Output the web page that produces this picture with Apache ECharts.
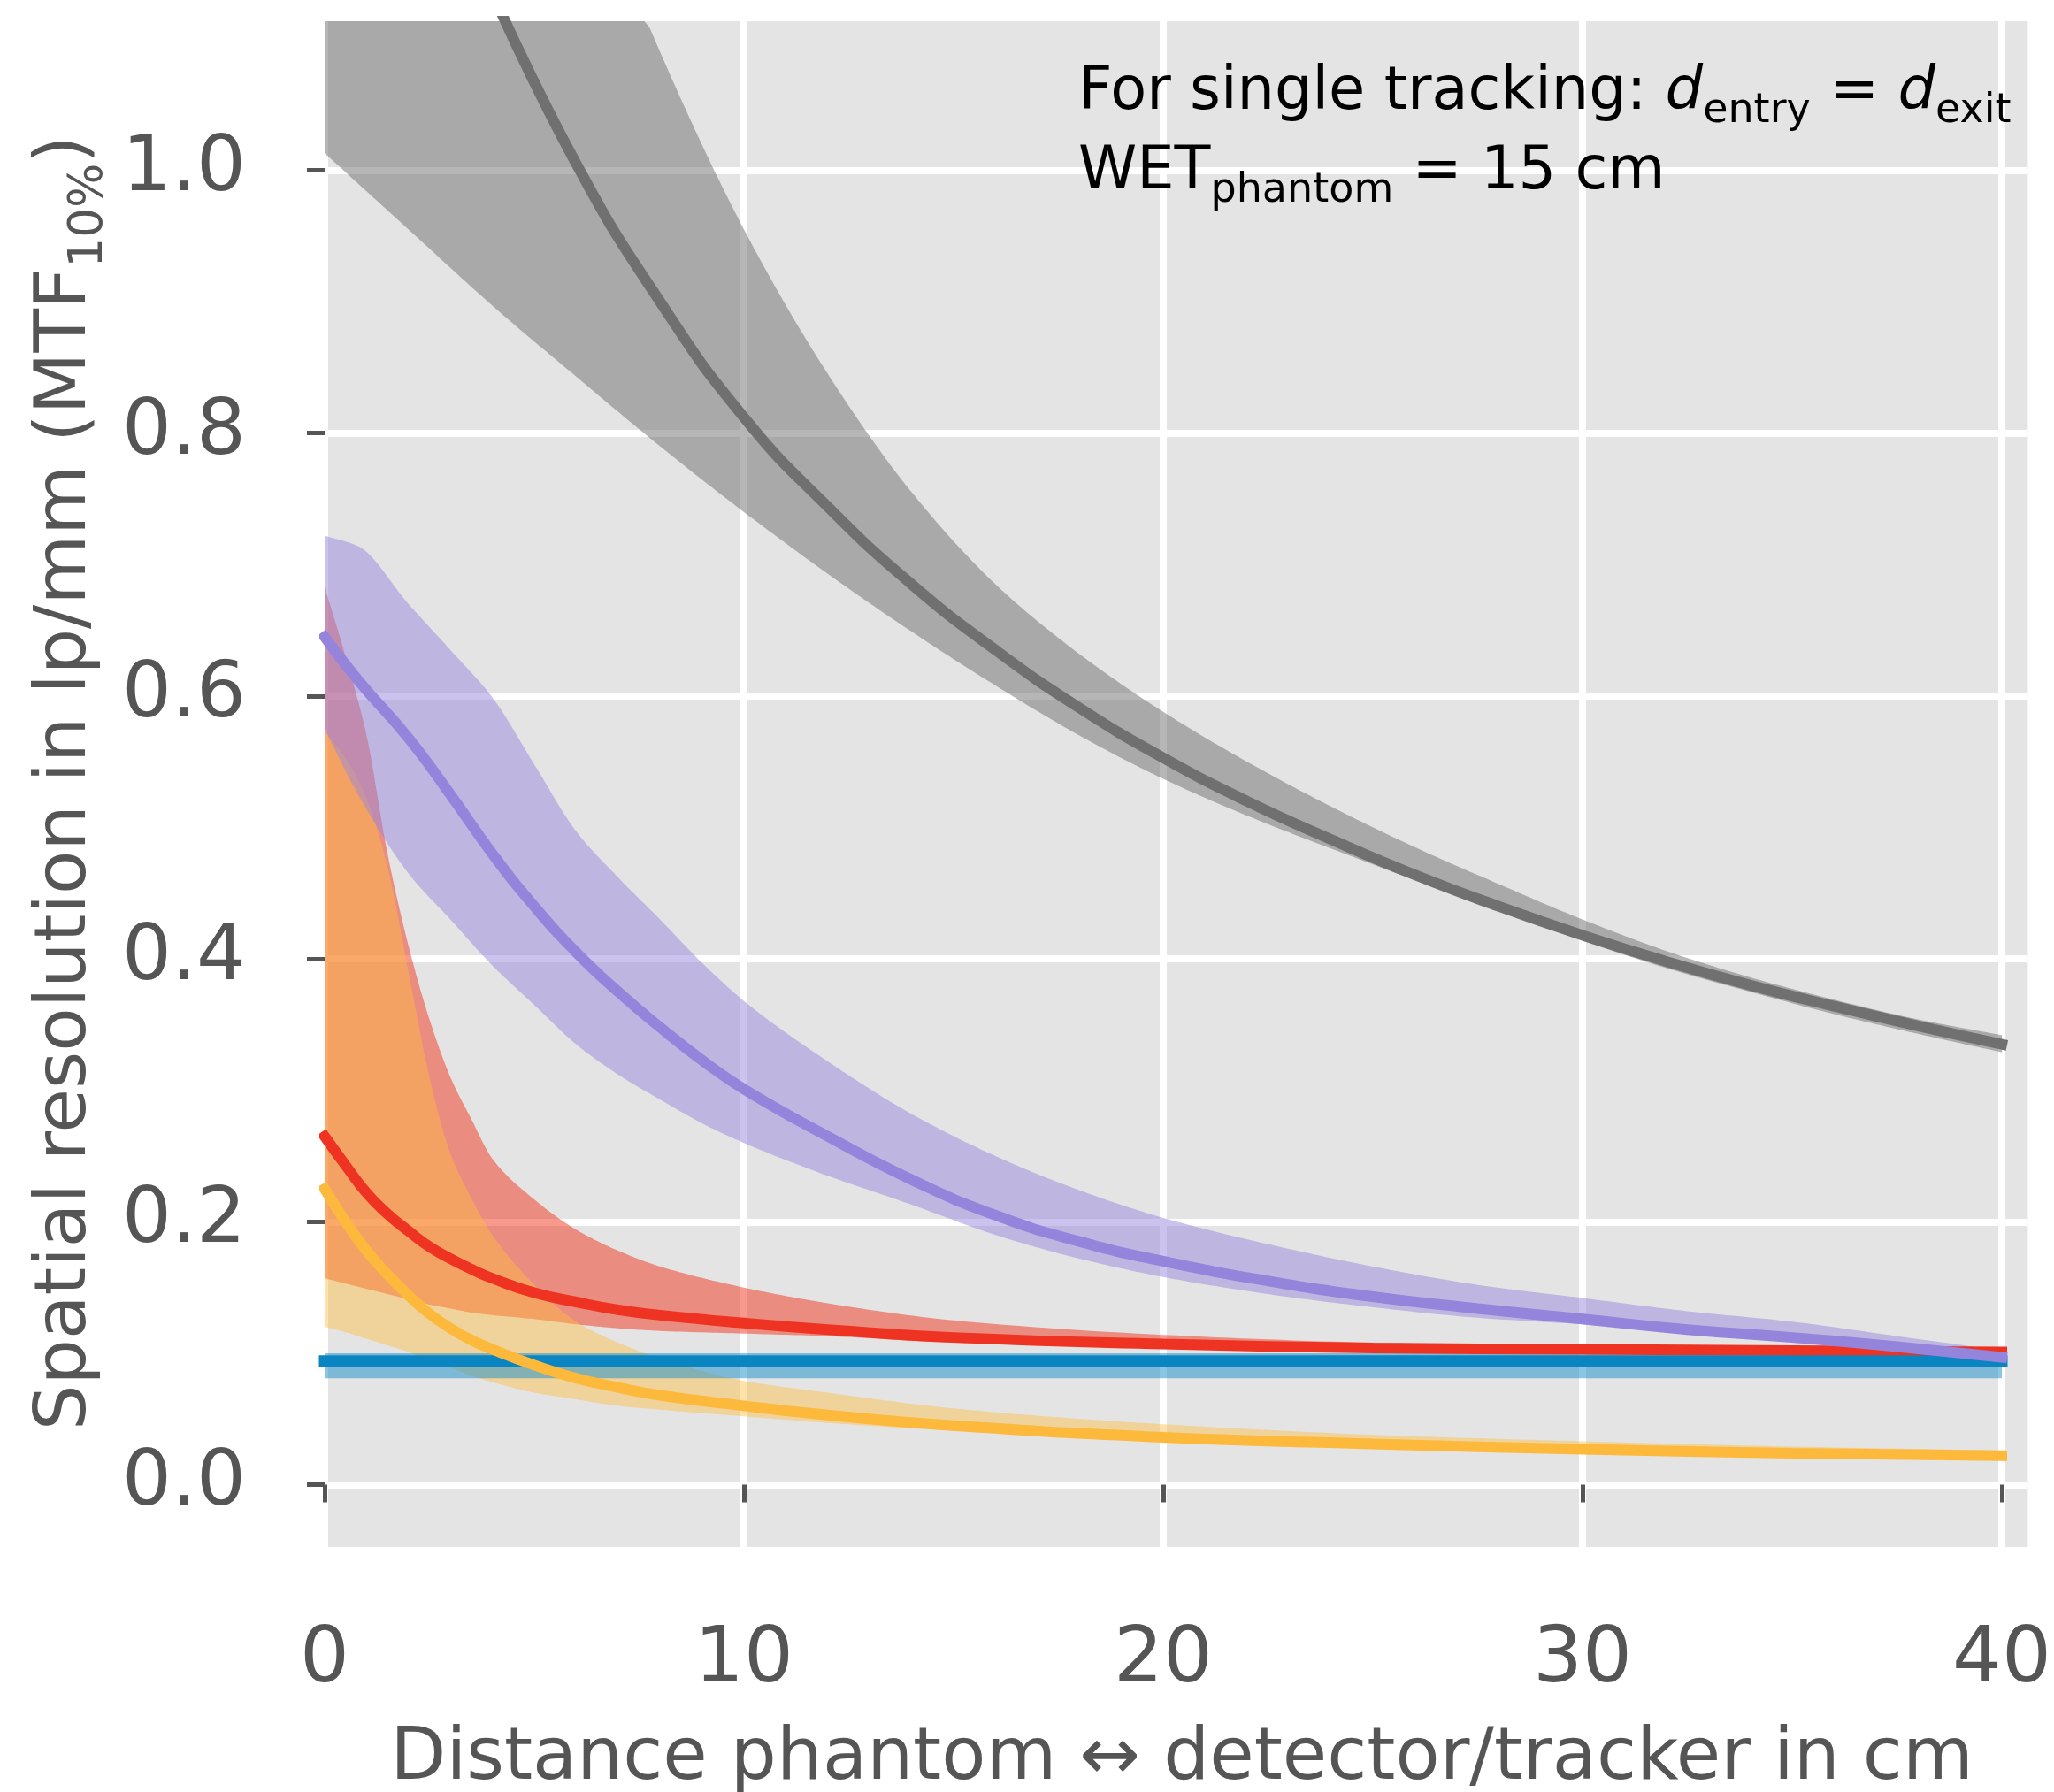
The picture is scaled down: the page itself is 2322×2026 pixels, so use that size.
<!DOCTYPE html>
<html><head><meta charset="utf-8">
<script src="https://cdn.jsdelivr.net/npm/echarts@6/dist/echarts.min.js"></script>
<style>html,body{margin:0;padding:0;background:#fff}#c{width:2322px;height:2026px}</style>
</head><body><div id="c"></div>
<script>
// ---------- data ----------
const xTicks = [0, 10, 20, 30, 40];
const yTicks = [0, 0.2, 0.4, 0.6, 0.8, 1.0];

const grayBandX     = [0, 2, 4, 6, 8, 10, 12, 14, 16, 18, 20, 22, 24, 26, 28, 30, 32, 34, 36, 38, 40];
const grayBandUpper = [1.95, 1.68, 1.44, 1.25, 1.09, 0.955, 0.845, 0.755, 0.685, 0.632, 0.588, 0.55, 0.516, 0.485, 0.457, 0.43, 0.406, 0.386, 0.369, 0.354, 0.342];
const grayBandLower = [1.013, 0.955, 0.897, 0.843, 0.79, 0.74, 0.693, 0.649, 0.608, 0.57, 0.537, 0.509, 0.484, 0.46, 0.437, 0.414, 0.393, 0.375, 0.358, 0.343, 0.329];
const grayLineX     = [4, 6, 8, 10, 12, 14, 16, 18, 20, 22, 24, 26, 28, 30, 32, 34, 36, 38, 40];
const grayLineY     = [1.135, 1.005, 0.9, 0.812, 0.744, 0.685, 0.635, 0.591, 0.553, 0.52, 0.491, 0.464, 0.44, 0.418, 0.398, 0.38, 0.364, 0.349, 0.335];

const purpleX     = [0, 0.8, 2, 3, 4, 5, 6, 7, 8, 9, 10, 12, 14, 16, 18, 20, 22.5, 25, 27.5, 30, 32.5, 35, 37.5, 40];
const purpleUpper = [0.722, 0.714, 0.67, 0.635, 0.599, 0.548, 0.497, 0.462, 0.43, 0.397, 0.368, 0.322, 0.282, 0.25, 0.224, 0.203, 0.183, 0.166, 0.152, 0.142, 0.132, 0.124, 0.113, 0.102];
const purpleLine  = [0.645, 0.612, 0.568, 0.525, 0.48, 0.44, 0.405, 0.375, 0.348, 0.323, 0.301, 0.265, 0.232, 0.205, 0.185, 0.17, 0.155, 0.143, 0.134, 0.126, 0.118, 0.112, 0.105, 0.097];
const purpleLower = [0.575, 0.525, 0.465, 0.43, 0.395, 0.365, 0.335, 0.312, 0.293, 0.275, 0.26, 0.235, 0.213, 0.19, 0.172, 0.158, 0.145, 0.135, 0.127, 0.122, 0.116, 0.111, 0.103, 0.095];

const redX     = [0, 0.5, 1, 1.5, 2, 2.5, 3, 3.5, 4, 5, 6, 7, 8, 10, 12, 15, 20, 25, 30, 35, 40];
const redUpper = [0.683, 0.63, 0.57, 0.48, 0.41, 0.354, 0.31, 0.278, 0.248, 0.217, 0.194, 0.178, 0.166, 0.15, 0.138, 0.125, 0.114, 0.108, 0.105, 0.103, 0.102];
const redLine  = [0.265, 0.243, 0.222, 0.206, 0.193, 0.181, 0.172, 0.164, 0.157, 0.146, 0.139, 0.133, 0.129, 0.123, 0.118, 0.112, 0.107, 0.104, 0.103, 0.102, 0.101];
const redLower = [0.157, 0.153, 0.149, 0.145, 0.141, 0.137, 0.134, 0.131, 0.129, 0.126, 0.122, 0.119, 0.117, 0.115, 0.113, 0.108, 0.104, 0.101, 0.1, 0.099, 0.099];

const yellowX     = [0, 0.5, 1, 1.5, 2, 2.5, 3, 3.5, 4, 5, 6, 7, 8, 10, 12, 15, 20, 25, 30, 35, 40];
const yellowUpper = [0.573, 0.553, 0.522, 0.47, 0.39, 0.31, 0.252, 0.218, 0.19, 0.152, 0.124, 0.108, 0.096, 0.079, 0.07, 0.058, 0.046, 0.038, 0.033, 0.029, 0.026];
const yellowLine  = [0.225, 0.2, 0.178, 0.16, 0.144, 0.13, 0.119, 0.11, 0.103, 0.091, 0.081, 0.074, 0.068, 0.06, 0.053, 0.045, 0.036, 0.031, 0.027, 0.024, 0.022];
const yellowLower = [0.12, 0.116, 0.111, 0.106, 0.101, 0.095, 0.089, 0.083, 0.078, 0.07, 0.065, 0.06, 0.057, 0.052, 0.047, 0.041, 0.033, 0.028, 0.024, 0.021, 0.019];

const blueX     = [0, 10, 20, 30, 40];
const blueLine  = [0.094, 0.094, 0.094, 0.094, 0.094];
const blueUpper = [0.1, 0.1, 0.1, 0.1, 0.1];
const blueLower = [0.081, 0.081, 0.081, 0.081, 0.081];

// ---------- helpers ----------
const FONT = 'DejaVu Sans';
const Y_MIN = -0.0474, Y_MAX = 1.1134, X_MIN = 0, X_MAX = 40.62;
const zip = (xs, ys) => xs.map((x, i) => [x, ys[i]]);

// monotone cubic sampling (rendering only: smooth drawing of the band edges)
function monotoneSample(xs, ys, n) {
  const m = xs.length, h = [], d = [], s = [];
  for (let i = 0; i < m - 1; i++) { h[i] = xs[i + 1] - xs[i]; d[i] = (ys[i + 1] - ys[i]) / h[i]; }
  s[0] = d[0]; s[m - 1] = d[m - 2];
  for (let i = 1; i < m - 1; i++) {
    if (d[i - 1] * d[i] <= 0) s[i] = 0;
    else { const w1 = 2 * h[i] + h[i - 1], w2 = h[i] + 2 * h[i - 1]; s[i] = (w1 + w2) / (w1 / d[i - 1] + w2 / d[i]); }
  }
  const out = [];
  for (let i = 0; i < m - 1; i++) {
    for (let k = 0; k < n; k++) {
      const t = k / n, t2 = t * t, t3 = t2 * t;
      const y = (2 * t3 - 3 * t2 + 1) * ys[i] + (t3 - 2 * t2 + t) * h[i] * s[i] + (-2 * t3 + 3 * t2) * ys[i + 1] + (t3 - t2) * h[i] * s[i + 1];
      out.push([xs[i] + t * h[i], y]);
    }
  }
  out.push([xs[m - 1], ys[m - 1]]);
  return out;
}

function band(name, xs, lo, hi, color, z) {
  return {
    type: 'custom', name, coordinateSystem: 'cartesian2d', clip: true, z, silent: true,
    data: xs.map((x, i) => [x, lo[i], hi[i]]),
    encode: { x: 0, y: [1, 2] },
    renderItem: (params, api) => {
      if (params.dataIndex !== 0) return null;
      const top = api.coord([X_MIN, Y_MAX])[1], bot = api.coord([X_MIN, Y_MIN])[1];
      const clampY = p => [p[0], Math.max(top, Math.min(bot, p[1]))];
      const up = monotoneSample(xs, hi, 16).map(p => clampY(api.coord(p)));
      const dn = monotoneSample(xs, lo, 16).map(p => clampY(api.coord(p))).reverse();
      return { type: 'polygon', shape: { points: up.concat(dn) }, style: { fill: color } };
    }
  };
}
function line(name, xs, ys, color, width, z) {
  return { type: 'line', name, data: zip(xs, ys), symbol: 'none', smooth: 0.5,
    lineStyle: { color, width, cap: 'square' }, z, silent: true, emphasis: { disabled: true } };
}

const series = [
  band('red band', redX, redLower, redUpper, 'rgba(242,52,28,0.5)', 1),
  band('yellow band', yellowX, yellowLower, yellowUpper, 'rgba(255,188,66,0.45)', 2),
  band('blue band', blueX, blueLower, blueUpper, 'rgba(22,142,202,0.5)', 3),
  band('purple band', purpleX, purpleLower, purpleUpper, 'rgba(152,136,222,0.5)', 4),
  band('gray band', grayBandX, grayBandLower, grayBandUpper, 'rgba(110,110,110,0.5)', 5),
  line('red line', redX, redLine, '#EE3322', 12, 6),
  line('blue line', blueX, blueLine, '#0A85C2', 13, 7),
  line('yellow line', yellowX, yellowLine, '#FDB93C', 12, 8),
  line('purple line', purpleX, purpleLine, '#9584DB', 12, 9),
  line('gray line', grayLineX, grayLineY, '#707070', 12, 10)
];

const chart = echarts.init(document.getElementById('c'), null, { renderer: 'canvas' });
chart.setOption({
  animation: false,
  backgroundColor: '#ffffff',
  textStyle: { fontFamily: FONT },
  grid: { left: 367, right: 25, top: 24, bottom: 277, show: true, backgroundColor: '#E4E4E4', borderWidth: 0, containLabel: false },
  xAxis: {
    type: 'value', min: X_MIN, max: X_MAX, offset: 8,
    axisLine: { show: false },
    axisTick: { show: true, length: 20, lineStyle: { color: '#555', width: 5 }, customValues: xTicks },
    axisLabel: { customValues: xTicks, fontSize: 88, color: '#555', margin: 77, fontFamily: FONT,
      formatter: v => String(Math.round(v)) },
    splitLine: { show: true, lineStyle: { color: '#ffffff', width: 8 } }
  },
  yAxis: {
    type: 'value', min: Y_MIN, max: Y_MAX, offset: 5,
    axisLine: { show: false },
    axisTick: { show: true, length: 20, lineStyle: { color: '#555', width: 5 }, customValues: yTicks },
    axisLabel: { customValues: yTicks, fontSize: 88, color: '#555', margin: 84, fontFamily: FONT,
      formatter: v => v.toFixed(1) },
    splitLine: { show: true, lineStyle: { color: '#ffffff', width: 8 } }
  },
  graphic: [
    { type: 'text', x: 75, y: 885, rotation: Math.PI / 2, z: 100,
      style: { text: 'Spatial resolution in lp/mm (MTF{s|10%})', fontSize: 81, fontFamily: FONT, fill: '#555',
        align: 'center', verticalAlign: 'middle',
        rich: { s: { fontSize: 53, fontFamily: FONT, fill: '#555', padding: [52, 0, 0, 0] } } } },
    { type: 'text', x: 1336, y: 1990, z: 100,
      style: { text: 'Distance phantom \u2194 detector/tracker in cm', fontSize: 82, fontFamily: FONT, fill: '#555',
        align: 'center', verticalAlign: 'middle' } },
    { type: 'text', x: 1219, y: 61, z: 100,
      style: { text: 'For single tracking: {i|d}{s|entry} = {i|d}{s|exit}\nWET{s|phantom} = 15 cm',
        fontSize: 67, fontFamily: FONT, fill: '#000', lineHeight: 90, align: 'left', verticalAlign: 'top',
        rich: {
          i: { fontSize: 67, fontStyle: 'italic', fontFamily: FONT, fill: '#000', lineHeight: 90 },
          s: { fontSize: 46, fontFamily: FONT, fill: '#000', padding: [40, 0, 0, 0] }
        } } }
  ],
  series
});
</script>
</body></html>
